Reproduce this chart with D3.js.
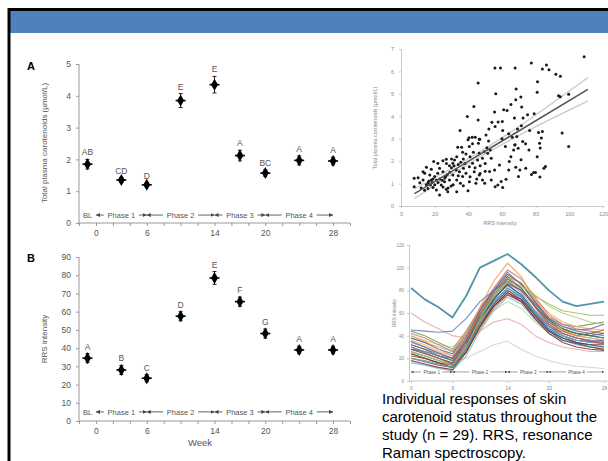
<!DOCTYPE html>
<meta charset="utf-8">
<style>
body { margin: 0; background: #fff; }
svg { display: block; font-family: "Liberation Sans", Arial, sans-serif; }
.axis path, .axis line { stroke: #9a9a9a; }
.axis text { fill: #555; }
.faint path, .faint line { stroke: #c8c8c8; }
.faint text { fill: #8a8a8a; }
</style>
<body>
<svg id="slide" width="608" height="461"></svg>
<script src="https://cdnjs.cloudflare.com/ajax/libs/d3/7.8.5/d3.min.js"></script>
<script>
// ---- data ----
var weeks = [-1, 3, 6, 10, 14, 17, 20, 24, 28];
var plasmaMean = [1.85, 1.35, 1.2, 3.85, 4.35, 2.12, 1.57, 1.97, 1.95];
var plasmaErr = [0.15, 0.08, 0.07, 0.22, 0.26, 0.17, 0.1, 0.14, 0.12];
var plasmaLetters = ["AB", "CD", "D", "E", "E", "A", "BC", "A", "A"];
var rrsMean = [34.5, 28, 23.5, 57.5, 78.5, 65.5, 48, 39, 39];
var rrsErr = [2.5, 2.5, 2, 2.5, 3.5, 2.5, 2.5, 2, 2];
var rrsLetters = ["A", "B", "C", "D", "E", "F", "G", "A", "A"];
var weekLabels = [0, 6, 14, 20, 28];

var phaseNames = ["BL", "Phase 1", "Phase 2", "Phase 3", "Phase 4"];
var phaseCenter = [-1, 3, 10, 17, 24];
var phaseStart = [null, 0, 6, 14, 20];
var phaseEnd = [null, 6, 14, 20, 28];

// scatter: [RRS intensity, total plasma carotenoids]
var scatterPoints = [
  [108.8,6.65],[77.4,6.38],[86.4,6.29],[87.9,6.08],[84,6.11],[67.8,6.15],[55.8,6.15],[59.1,6.15],
  [92,5.87],[94.7,5.78],[45.8,5.48],[81.1,5.54],[68.4,5.22],[56.3,5.0],[80.9,5.07],[93.6,4.92],
  [94.6,4.87],[99.6,4.98],[43.3,4.44],[71.2,4.86],[68.2,4.74],[65.3,4.52],[63,4.26],[61,4.29],
  [55.6,4.19],[39.4,3.99],[45.8,3.83],[75.2,4.07],[79.1,4.11],[71.7,4.41],
  [35.1,3.37],[40.4,3.04],[42.3,3.07],[46.8,2.98],[46,2.8],[50.5,3.17],[52.2,3.43],[54,3.73],
  [55.9,3.55],[57.7,3.74],[60.2,3.77],[60.4,3.37],[60,3.0],[64,3.22],[66.1,3.06],[68.8,3.1],
  [69.2,3.43],[71.5,3.58],[72.5,3.92],[67.4,3.92],[76.4,3.37],[81.7,3.28],[83.4,3.03],[82.3,2.8],
  [82.7,2.59],[84,3.32],[95.7,3.25],[99.6,2.65],[74,2.77],[69.6,2.57],[67.5,2.72],
  [84.9,1.68],[82.5,1.29],[77.5,1.41],[78.8,1.49],[52.6,1.54],[53.6,1.16],[55.9,0.86],[57.5,0.94],
  [59.5,1.09],[60.4,0.82],[62.4,1.19],[64,1.61],[65.3,2.2],[66.9,2.5],[68.2,1.73],[69.8,1.31],
  [70.6,1.61],[71.3,2.06],[74.1,1.68],[76,2.5],[79.9,1.49],[80.9,2.2],[85.8,1.76],[51.5,2.35],
  [49.7,1.01],[53.6,2.13],[58.5,1.83],[62,2.65],[67.8,2.73],[72.3,2.88],[64.3,1.98],[55.6,1.61],
  [7.8,1.24],[10.2,1.26],[7.8,0.86],[11.2,1.04],[13.1,1.16],[14.1,1.46],[18,1.64],[19.4,1.98],
  [16.1,1.01],[17.5,0.94],[19,0.83],[21,0.71],[22.9,0.49],[23.9,0.94],[26.9,0.75],[27.8,0.64],
  [29.8,0.89],[33.1,0.64],[35.3,1.01],[39.8,0.68],[21.8,1.46],[22.9,1.68],[24.9,1.53],[26.5,1.31],
  [28.8,1.79],[30.8,1.91],[31.8,2.05],[33.1,2.2],[33.7,2.62],[36.6,2.4],[38.6,2.32],[40.6,2.65],
  [42.5,2.77],[39.8,2.95],[44.1,3.07],[46.5,2.98],[34.7,1.53],[37.1,1.68],[38.6,1.46],[40.6,1.75],
  [43.5,1.53],[46.5,1.38],[48.4,1.16],[42.5,1.91],[45.5,2.05],[48.4,2.13],[46.5,2.35],[49.4,2.42],
  [24.9,2.02],[26.9,2.08],[21.9,1.91],[13.1,1.53],[15.1,1.73],[17.1,1.38],[20,1.31],[30.8,1.38],
  [32.8,1.61],[28.8,1.16],[25.9,1.08],[18,1.16],[21,1.16],[36.6,1.31],[33.1,1.16],[40.6,1.08],
  [44.5,1.01],[15,0.95],[16.5,1.1],[18.5,1.05],[20,0.95],[22,1.05],[23,1.2],[24.5,1.15],[26,1.25],
  [27.5,1.4],[29,1.5],[30,1.7],[31.5,1.8],[34,1.85],[35.5,1.95],[37,2.1],[38,1.9],[41,2.2],[43,2.4],
  [44,1.7],[47,1.8],[50,1.9],[51,2.6],[52,2.9],[53,2.5],[36,2.62],[30,2.1],[27,1.9],[12,0.8],
  [14,0.7],[16,0.78],[19,1.2],[25,0.85],[28,0.8],[31,0.95],[34,1.35],[37,0.9],[41,1.3],[45,1.2],
  [47,1.45],[50,1.55]
];
var fitX = [8, 40, 111];
var fitMid = [0.55, 1.99, 5.2];
var fitLow = [0.33, 1.88, 4.68];
var fitHigh = [0.77, 2.1, 5.72];

// individual RRS curves (n = 29)
var indivWeeks = [0, 2, 4, 6, 8, 10, 12, 14, 16, 18, 20, 22, 24, 26, 28];
var indivRRS = [
  [82,72,65,56,75,100,106,112,103,92,80,70,66,68,70],
  [45,44,43,44,55,70,80,88,80,68,55,48,44,42,40],
  [30,25,20,15,35,60,78,92,82,65,50,42,38,35,33],
  [25,22,18,14,30,55,75,88,84,75,68,62,60,58,58],
  [35,30,25,20,38,62,80,96,85,70,55,48,45,46,50],
  [20,18,15,12,28,50,70,82,75,60,46,40,36,34,35],
  [40,35,28,22,40,65,88,104,92,72,56,45,40,38,36],
  [28,24,20,16,32,55,72,85,76,60,45,38,34,32,30],
  [18,15,12,10,25,48,66,78,70,55,42,34,30,28,27],
  [32,28,22,18,35,58,76,90,82,66,52,46,42,40,42],
  [24,20,16,12,28,50,68,80,72,58,44,36,33,30,28],
  [38,34,28,24,40,62,80,94,86,70,54,46,42,40,38],
  [22,20,16,14,30,52,72,86,80,66,52,44,40,42,45],
  [30,26,22,18,34,58,74,88,78,62,48,40,36,34,33],
  [42,38,32,26,42,64,82,98,90,74,58,50,46,44,42],
  [26,22,18,15,30,54,74,92,86,76,66,60,56,52,50],
  [34,30,24,20,36,58,74,84,76,62,50,42,38,36,35],
  [16,14,11,9,22,44,62,74,68,54,42,36,32,30,30],
  [36,32,26,22,38,60,78,92,86,72,60,52,48,46,45],
  [28,26,22,20,34,56,70,82,74,60,48,42,38,36,34],
  [20,17,14,12,26,48,66,76,70,56,44,38,34,32,32],
  [44,40,34,28,44,64,80,90,82,68,56,50,48,50,52],
  [26,22,18,14,28,50,66,78,72,58,46,40,36,35,36],
  [32,28,24,20,34,56,72,86,80,66,54,46,42,40,38],
  [24,20,16,12,26,46,64,76,72,60,48,40,34,30,28],
  [38,34,30,26,36,54,68,80,74,60,50,44,40,38,36],
  [60,52,46,40,38,44,52,55,50,40,34,30,28,26,26],
  [40,36,32,30,36,50,62,70,64,52,42,36,34,32,32],
  [30,26,22,18,20,26,32,35,28,22,18,15,13,12,11]
];
var indivColors = ["#31849b","#4f81bd","#c0504d","#9bbb59","#8064a2","#4bacc6","#f79646","#2c4d75",
  "#772c2a","#5f7530","#4d3b62","#276a7c","#b65708","#729aca","#cd7371","#afc97a","#9983b5",
  "#6fbdd1","#f9ab6b","#3a6595","#9e3b38","#7e9c40","#664f82","#3a8da3","#da7a30","#95b3d7",
  "#e6a5a5","#c3d69b","#c5d3e0"];

var caption = ["Individual responses of skin", "carotenoid status throughout the",
  "study (n = 29). RRS, resonance", "Raman spectroscopy."];

var svg = d3.select("#slide");
svg.append("rect").attr("width", 608).attr("height", 461).attr("fill", "#fff");

var defs = svg.append("defs");
function arrowMarker(id, size) {
  defs.append("marker").attr("id", id)
    .attr("viewBox", "0 0 6 6").attr("refX", 6).attr("refY", 3)
    .attr("markerWidth", size).attr("markerHeight", size)
    .attr("markerUnits", "userSpaceOnUse").attr("orient", "auto")
    .append("path").attr("d", "M0,0L6,3L0,6Z").attr("fill", "#444");
}
arrowMarker("arr", 4);
arrowMarker("arrSmall", 2.5);

// header bar + frame
svg.append("rect").attr("x", 10).attr("y", 10).attr("width", 598).attr("height", 23).attr("fill", "#4f81bd");
svg.append("line").attr("x1", 8).attr("x2", 608).attr("y1", 9.5).attr("y2", 9.5).attr("stroke", "#000").attr("stroke-width", 3);
svg.append("line").attr("x1", 9).attr("x2", 9).attr("y1", 8).attr("y2", 461).attr("stroke", "#000").attr("stroke-width", 3);

function phaseRow(g, x, yPix, fs, marker, skipBL) {
  phaseNames.forEach(function (name, i) {
    if (skipBL && i === 0) return;
    var cx = x(phaseCenter[i]);
    var t = g.append("text").attr("x", cx).attr("y", yPix).attr("dy", "0.35em")
      .attr("text-anchor", "middle").attr("font-size", fs).attr("fill", "#555").text(name);
    var w = t.node().getComputedTextLength();
    if (phaseStart[i] !== null) {
      g.append("line").attr("x1", cx - w / 2 - fs * 0.5).attr("x2", x(phaseStart[i]))
        .attr("y1", yPix).attr("y2", yPix).attr("stroke", "#444").attr("stroke-width", fs / 9)
        .attr("marker-end", "url(#" + marker + ")");
      g.append("line").attr("x1", cx + w / 2 + fs * 0.5).attr("x2", x(phaseEnd[i]))
        .attr("y1", yPix).attr("y2", yPix).attr("stroke", "#444").attr("stroke-width", fs / 9)
        .attr("marker-end", "url(#" + marker + ")");
    }
  });
}

// ---- panels A and B ----
var xWeek = d3.scaleLinear().domain([-2, 30]).range([79, 350]);

function meanPanel(opt) {
  var g = svg.append("g");
  var y = d3.scaleLinear().domain(opt.domain).range(opt.range);
  g.append("g").attr("class", "axis").attr("transform", "translate(79,0)")
    .call(d3.axisLeft(y).tickValues(d3.range(opt.domain[0], opt.domain[1] + 0.001, opt.step))
      .tickFormat(d3.format("d")).tickSize(3).tickPadding(5))
    .call(function (a) { a.selectAll("text").attr("font-size", 8.5); a.select(".domain").attr("d", "M0," + opt.range[0] + "V" + opt.range[1]); });
  g.append("g").attr("class", "axis").attr("transform", "translate(0," + opt.range[0] + ")")
    .call(d3.axisBottom(xWeek).tickValues(d3.range(-2, 31, 2)).tickSize(3).tickPadding(4)
      .tickFormat(function (d) { return weekLabels.indexOf(d) >= 0 ? d : ""; }))
    .call(function (a) { a.selectAll("text").attr("font-size", 8.5); a.select(".domain").attr("d", "M79,0H350"); });

  g.append("text").attr("transform", "translate(47," + opt.titleY + ")rotate(-90)")
    .attr("text-anchor", "middle").attr("font-size", 8).attr("fill", "#555").text(opt.title);
  g.append("text").attr("x", 27).attr("y", opt.letterY).attr("font-size", 11).attr("font-weight", "bold").text(opt.letter);

  phaseRow(g, xWeek, y(opt.phaseY), 7.5, "arr", false);

  var pts = g.selectAll(".pt").data(weeks).enter().append("g");
  pts.append("line").attr("x1", function (d) { return xWeek(d); }).attr("x2", function (d) { return xWeek(d); })
    .attr("y1", function (d, i) { return y(opt.mean[i] - opt.err[i]); })
    .attr("y2", function (d, i) { return y(opt.mean[i] + opt.err[i]); }).attr("stroke", "#222");
  [-1, 1].forEach(function (s) {
    pts.append("line").attr("x1", function (d) { return xWeek(d) - 2; }).attr("x2", function (d) { return xWeek(d) + 2; })
      .attr("y1", function (d, i) { return y(opt.mean[i] + s * opt.err[i]); })
      .attr("y2", function (d, i) { return y(opt.mean[i] + s * opt.err[i]); }).attr("stroke", "#222");
  });
  pts.append("line").attr("x1", function (d) { return xWeek(d) - 5; }).attr("x2", function (d) { return xWeek(d) + 5; })
    .attr("y1", function (d, i) { return y(opt.mean[i]); }).attr("y2", function (d, i) { return y(opt.mean[i]); })
    .attr("stroke", "#000").attr("stroke-width", 1.6);
  pts.append("path").attr("d", d3.symbol(d3.symbolDiamond, 42))
    .attr("transform", function (d, i) { return "translate(" + xWeek(d) + "," + y(opt.mean[i]) + ")"; })
    .attr("fill", "#000");
  pts.append("text").attr("x", function (d) { return xWeek(d); })
    .attr("y", function (d, i) { return y(opt.mean[i] + opt.err[i]) - 4; })
    .attr("text-anchor", "middle").attr("font-size", 8.5).attr("fill", "#555")
    .text(function (d, i) { return opt.letters[i]; });
  return g;
}

meanPanel({ domain: [0, 5], range: [223, 64], step: 1, mean: plasmaMean, err: plasmaErr, letters: plasmaLetters,
  title: "Total plasma carotenoids (\u00b5mol/L)", titleY: 143, letter: "A", letterY: 70, phaseY: 0.25 });
meanPanel({ domain: [0, 90], range: [421, 257], step: 10, mean: rrsMean, err: rrsErr, letters: rrsLetters,
  title: "RRS intensity", titleY: 339, letter: "B", letterY: 262, phaseY: 5 });
svg.append("text").attr("x", 200).attr("y", 446).attr("text-anchor", "middle").attr("font-size", 9.5).attr("fill", "#555").text("Week");

// ---- scatter: plasma vs RRS ----
var sx = d3.scaleLinear().domain([0, 120]).range([401, 603]);
var sy = d3.scaleLinear().domain([0, 7]).range([206, 49]);
var sc = svg.append("g");
sc.append("g").attr("class", "axis faint").attr("transform", "translate(401,0)")
  .call(d3.axisLeft(sy).ticks(7).tickSize(2).tickPadding(5))
  .call(function (a) { a.selectAll("text").attr("font-size", 5.5); });
sc.append("g").attr("class", "axis faint").attr("transform", "translate(0,206)")
  .call(d3.axisBottom(sx).tickValues(d3.range(0, 121, 20)).tickSize(2).tickPadding(4))
  .call(function (a) { a.selectAll("text").attr("font-size", 5.5); });
sc.append("text").attr("x", 500).attr("y", 225).attr("text-anchor", "middle").attr("font-size", 5.5).attr("fill", "#888").text("RRS intensity");
sc.append("text").attr("transform", "translate(377,128)rotate(-90)").attr("text-anchor", "middle")
  .attr("font-size", 5.5).attr("fill", "#888").text("Total plasma carotenoids (\u00b5mol/L)");

var fitLine = d3.line().curve(d3.curveMonotoneX).x(function (d) { return sx(d[0]); }).y(function (d) { return sy(d[1]); });
[fitLow, fitHigh].forEach(function (arr) {
  sc.append("path").attr("d", fitLine(fitX.map(function (v, i) { return [v, arr[i]]; })))
    .attr("fill", "none").attr("stroke", "#d0d0d0").attr("stroke-width", 1.5);
});
sc.selectAll("circle").data(scatterPoints).enter().append("circle")
  .attr("cx", function (d) { return sx(d[0]); }).attr("cy", function (d) { return sy(d[1]); })
  .attr("r", 1.5).attr("fill", "#1a1a1a");
sc.append("path").attr("d", fitLine(fitX.map(function (v, i) { return [v, fitMid[i]]; })))
  .attr("fill", "none").attr("stroke", "#555").attr("stroke-width", 1.6);

// ---- individual curves ----
var ix = d3.scaleLinear().domain([0, 28]).range([411, 604]);
var iy = d3.scaleLinear().domain([0, 120]).range([381, 245]);
var ind = svg.append("g");
ind.append("g").attr("class", "axis faint").attr("transform", "translate(409,0)")
  .call(d3.axisLeft(iy).tickValues(d3.range(0, 121, 20)).tickSize(2).tickPadding(3))
  .call(function (a) { a.selectAll("text").attr("font-size", 4.5); });
ind.append("g").attr("class", "axis faint").attr("transform", "translate(0,381)")
  .call(d3.axisBottom(ix).tickValues(weekLabels).tickSize(2).tickPadding(3))
  .call(function (a) { a.selectAll("text").attr("font-size", 5); a.select(".domain").attr("d", "M409,0H608"); });
ind.append("text").attr("transform", "translate(396,313)rotate(-90)").attr("text-anchor", "middle")
  .attr("font-size", 4.5).attr("fill", "#888").text("RRS intensity");

var indLine = d3.line().x(function (d, i) { return ix(indivWeeks[i]); }).y(function (d) { return iy(d); });
indivRRS.slice().reverse().forEach(function (row, k) {
  var i = indivRRS.length - 1 - k;
  ind.append("path").attr("d", indLine(row)).attr("fill", "none").attr("stroke-opacity", 0.85)
    .attr("stroke", indivColors[i]).attr("stroke-width", i === 0 ? 1.8 : 1.1).attr("stroke-linejoin", "round");
});
phaseRow(ind, ix, iy(8), 4.5, "arrSmall", true);

// caption
caption.forEach(function (s, i) {
  svg.append("text").attr("x", 382).attr("y", 404 + i * 18).attr("font-size", 15).attr("fill", "#000").text(s);
});
</script>
</body>
